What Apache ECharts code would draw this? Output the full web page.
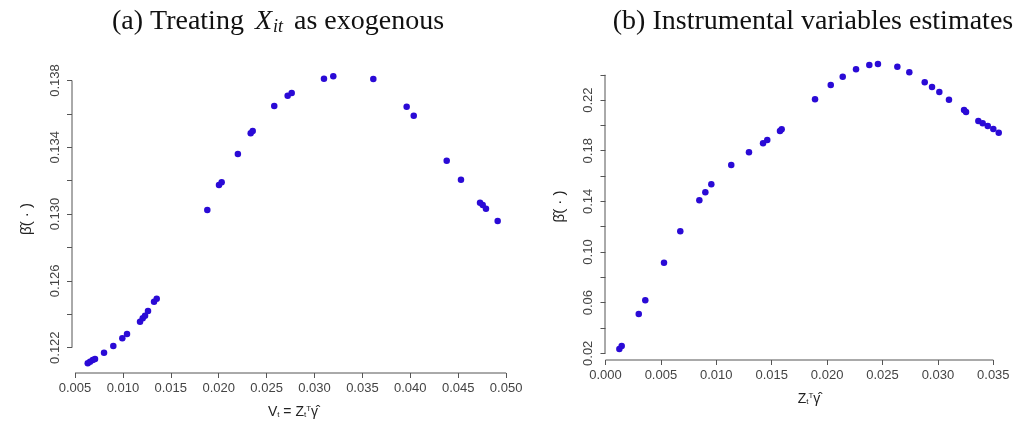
<!DOCTYPE html>
<html>
<head>
<meta charset="utf-8">
<script src="https://cdn.jsdelivr.net/npm/echarts@6/dist/echarts.min.js"></script>
<style>
html,body{margin:0;padding:0;background:#fff;}
#c{width:1016px;height:426px;}
</style>
</head>
<body>
<div id="c"></div>
<script>
// Panel (a): Treating X_it as exogenous
const aX = [0.00633,0.00657,0.00685,0.00709,0.00803,0.00900,0.00994,0.01043,0.01179,0.01207,0.01231,0.01262,0.01325,0.01353,0.01881,0.02003,0.02031,0.02200,0.02334,0.02355,0.02580,0.02720,0.02762,0.03099,0.03196,0.03614,0.03962,0.04036,0.04380,0.04529,0.04728,0.04756,0.04790,0.04912];
const aY = [0.12107,0.12116,0.12126,0.12132,0.12170,0.12210,0.12256,0.12282,0.12356,0.12376,0.12392,0.12420,0.12475,0.12493,0.13025,0.13174,0.13190,0.13360,0.13484,0.13498,0.13647,0.13709,0.13725,0.13811,0.13825,0.13809,0.13643,0.13589,0.13320,0.13206,0.13068,0.13054,0.13032,0.12959];
// Panel (b): Instrumental variables estimates
const bX = [0.00125,0.00146,0.00300,0.00359,0.00528,0.00675,0.00847,0.00901,0.00955,0.01135,0.01295,0.01422,0.01460,0.01575,0.01590,0.01891,0.02033,0.02141,0.02261,0.02381,0.02459,0.02634,0.02742,0.02881,0.02947,0.03013,0.03100,0.03236,0.03254,0.03365,0.03404,0.03450,0.03500,0.03549];
const bY = [0.0234,0.0258,0.0510,0.0619,0.0916,0.1164,0.1409,0.1472,0.1535,0.1687,0.1788,0.1859,0.1885,0.1956,0.1969,0.2206,0.2319,0.2385,0.2443,0.2477,0.2485,0.2464,0.2420,0.2341,0.2304,0.2264,0.2203,0.2122,0.2106,0.2035,0.2017,0.1995,0.1972,0.1943];

// tick values
const aXTicks = [0.005,0.010,0.015,0.020,0.025,0.030,0.035,0.040,0.045,0.050];
const aYTicks = [0.122,0.124,0.126,0.128,0.130,0.132,0.134,0.136,0.138];
const aYLabels = [0.122,0.126,0.130,0.134,0.138];
const bXTicks = [0.000,0.005,0.010,0.015,0.020,0.025,0.030,0.035];
const bYTicks = [0.02,0.04,0.06,0.08,0.10,0.12,0.14,0.16,0.18,0.20,0.22,0.24];
const bYLabels = [0.02,0.06,0.10,0.14,0.18,0.22];

const titleA = "(a) Treating ";
const titleA2 = " as exogenous";
const titleB = "(b) Instrumental variables estimates";

const lim = {
  a: {xMin:0.004687, xMax:0.050825, yMin:0.120485, yMax:0.138928},
  b: {xMin:-0.000045, xMax:0.036778, yMin:0.01471, yMax:0.2572}
};

const axisColor = '#555';
const labelColor = '#444';
const labelFont = {fontFamily:'Liberation Sans', fontSize:13, color:labelColor};
const dotColor = '#2a0ad6';
const serif = 'Liberation Serif';

function zip(xs, ys){ return xs.map((x,i)=>[x, ys[i]]); }

function xAxisCfg(idx, L, ticks, dec, nameRich){
  return {
    type:'value', gridIndex:idx, min:L.xMin, max:L.xMax,
    axisLine:{show:false}, splitLine:{show:false},
    axisTick:{show:true, customValues:ticks, length:5, lineStyle:{color:axisColor}},
    axisLabel:Object.assign({customValues:ticks, margin:9, formatter:v=>v.toFixed(dec)}, labelFont),
    name:nameRich, nameLocation:'middle', nameGap:32,
    nameTextStyle:{fontFamily:'Liberation Sans', fontSize:14, color:'#222', rich:{
      n:{fontFamily:'Liberation Sans', fontSize:14, color:'#222'},
      s:{fontFamily:'Liberation Sans', fontSize:8, color:'#222', verticalAlign:'bottom', padding:[6,0,0,0]},
      p:{fontFamily:'Liberation Sans', fontSize:8, color:'#222', verticalAlign:'top', padding:[0,0,6,0]}
    }}
  };
}
function yAxisCfg(idx, L, ticks, labels, dec){
  return {
    type:'value', gridIndex:idx, min:L.yMin, max:L.yMax,
    axisLine:{show:false}, splitLine:{show:false},
    axisTick:{show:true, customValues:ticks, length:5, lineStyle:{color:axisColor}},
    axisLabel:Object.assign({customValues:labels, margin:10, rotate:90, formatter:v=>v.toFixed(dec)}, labelFont),
    name:'β\u0302( · )', nameLocation:'middle', nameGap:38, nameRotate:90,
    nameTextStyle:{fontFamily:'Liberation Sans', fontSize:15, color:'#222'}
  };
}
function axisLines(xi, yi, L, xt, yt){
  const base = {type:'line', xAxisIndex:xi, yAxisIndex:yi, symbol:'none', silent:true, clip:false,
    lineStyle:{color:axisColor, width:1}, z:1, animation:false};
  return [
    Object.assign({data:[[xt[0], L.yMin],[xt[xt.length-1], L.yMin]]}, base),
    Object.assign({data:[[L.xMin, yt[0]],[L.xMin, yt[yt.length-1]]]}, base)
  ];
}

const chart = echarts.init(document.getElementById('c'), null, {renderer:'canvas'});
chart.setOption({
  animation:false,
  backgroundColor:'#fff',
  title:[
    {text:'{t|'+titleA+'}{i|X}{s|it}{t|'+titleA2+'}', left:273, top:3, textAlign:'center',
     textStyle:{fontWeight:'normal', rich:{
       t:{fontFamily:serif, fontSize:28, fontWeight:'normal', color:'#111'},
       i:{fontFamily:serif, fontStyle:'italic', fontWeight:'normal', fontSize:28, color:'#111', padding:[0,1,0,4]},
       s:{fontFamily:serif, fontStyle:'italic', fontWeight:'normal', fontSize:18, color:'#111', verticalAlign:'bottom', padding:[10,4,0,0]}
     }}},
    {text:titleB, left:808, top:3, textAlign:'center',
     textStyle:{fontFamily:serif, fontSize:28, fontWeight:'normal', color:'#111'}}
  ],
  grid:[
    {left:72, right:502, top:65, bottom:53},
    {left:605, right:3, top:53, bottom:66}
  ],
  xAxis:[
    xAxisCfg(0, lim.a, aXTicks, 3, '{n|V}{s|t}{n| = Z}{s|t}{p|T}{n|γ\u0302}'),
    xAxisCfg(1, lim.b, bXTicks, 3, '{n|Z}{s|t}{p|T}{n|γ\u0302}')
  ],
  yAxis:[
    yAxisCfg(0, lim.a, aYTicks, aYLabels, 3),
    yAxisCfg(1, lim.b, bYTicks, bYLabels, 2)
  ],
  series:[
    {type:'scatter', xAxisIndex:0, yAxisIndex:0, data:zip(aX,aY), symbolSize:6.5, itemStyle:{color:dotColor, opacity:1}, z:3},
    {type:'scatter', xAxisIndex:1, yAxisIndex:1, data:zip(bX,bY), symbolSize:6.5, itemStyle:{color:dotColor, opacity:1}, z:3}
  ].concat(axisLines(0,0,lim.a,aXTicks,aYTicks), axisLines(1,1,lim.b,bXTicks,bYTicks))
});
</script>
</body>
</html>
